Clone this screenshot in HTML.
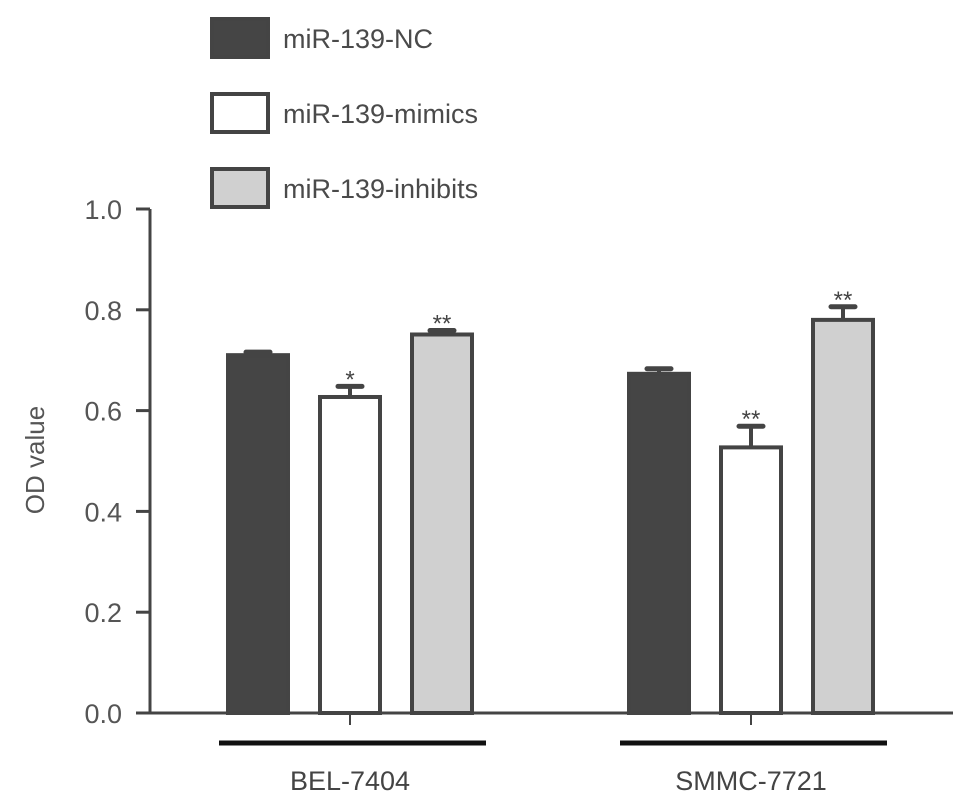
<!DOCTYPE html>
<html><head><meta charset="utf-8"><style>
body{margin:0;background:#fff}
svg{display:block;font-family:"Liberation Sans",sans-serif}
</style></head><body>
<svg id="chart" width="969" height="809" viewBox="0 0 969 809">
<g id="legend"></g>
<g id="axes"></g>
<g id="bars"></g>
</svg>
<script>
const groups = ["BEL-7404", "SMMC-7721"];
const seriesNames = ["miR-139-NC", "miR-139-mimics", "miR-139-inhibits"];
const valuesNC = [0.71, 0.673];
const valuesMimics = [0.627, 0.527];
const valuesInhibits = [0.751, 0.78];
const errNC = [0.006, 0.01];
const errMimics = [0.021, 0.042];
const errInhibits = [0.008, 0.026];
const sigMimics = ["*", "**"];
const sigInhibits = ["**", "**"];
const yTicks = [0, 0.2, 0.4, 0.6, 0.8, 1.0];

const NS = "http://www.w3.org/2000/svg";
const fills = ["#454545", "#ffffff", "#d0d0d0"];
const stroke = "#444";
function y(v){ return 713 - 504 * v; }
const groupStart = [226, 627];
const barW = 64, barStep = 92;
function x(g, s){ return groupStart[g] + s * barStep; }
function mk(parent, tag, attrs){
  const e = document.createElementNS(NS, tag);
  for (const k in attrs) e.setAttribute(k, attrs[k]);
  parent.appendChild(e);
  return e;
}
const legend = document.getElementById('legend');
const axes = document.getElementById('axes');
const bars = document.getElementById('bars');

seriesNames.forEach((n, i) => {
  const r = mk(legend, 'rect', {x: 212, y: 19 + i * 75, width: 56, height: 38, fill: fills[i], stroke: stroke, 'stroke-width': 4});
  
  
  const t = mk(legend, 'text', {x: 283, y: 48 + i * 75, 'font-size': 27, fill: '#4a4a4a'});
  t.textContent = n;
  
  
});

const ya = mk(axes, 'line', {x1: 150, y1: y(1.0), x2: 150, y2: y(0) + 1, stroke: stroke, 'stroke-width': 3});


yTicks.forEach(v => {
  const tk = mk(axes, 'line', {x1: 136, y1: y(v), x2: 150, y2: y(v), stroke: stroke, 'stroke-width': 3});
  
  
  const t = mk(axes, 'text', {x: 122, y: y(v) + 10, 'font-size': 27, 'text-anchor': 'end', fill: '#555'});
  t.textContent = v.toFixed(1);
  
  
});
const yt = mk(axes, 'text', {x: 0, y: 0, 'font-size': 26, 'text-anchor': 'middle', fill: '#555', transform: 'translate(44,460) rotate(-90)'});
yt.textContent = 'OD value';


const xa = mk(axes, 'line', {x1: 136, y1: y(0), x2: 953, y2: y(0), stroke: stroke, 'stroke-width': 3});



groups.forEach((g, gi) => {
  const cx = x(gi, 1) + barW / 2;
  const tk = mk(axes, 'line', {x1: cx, y1: y(0), x2: cx, y2: y(0) + 12, stroke: stroke, 'stroke-width': 2});
  
  
  const gl = mk(axes, 'line', {x1: x(gi, 0) - 7, y1: 743, x2: x(gi, 2) + barW + 12, y2: 743, stroke: '#111', 'stroke-width': 5});
  
  
  const t = mk(axes, 'text', {x: cx, y: 790, 'font-size': 27, 'text-anchor': 'middle', fill: '#444'});
  t.textContent = g;
  
  
});

const vals = [valuesNC, valuesMimics, valuesInhibits];
const errs = [errNC, errMimics, errInhibits];
const sigs = [null, sigMimics, sigInhibits];
groups.forEach((g, gi) => {
  vals.forEach((arr, si) => {
    const v = arr[gi], e = errs[si][gi];
    const bx = x(gi, si), cx = bx + barW / 2;
    const eb = mk(bars, 'line', {x1: cx, y1: y(v), x2: cx, y2: y(v + e), stroke: stroke, 'stroke-width': 4});
    
    
    const cap = mk(bars, 'line', {x1: cx - 12, y1: y(v + e), x2: cx + 12, y2: y(v + e), stroke: stroke, 'stroke-width': 5, 'stroke-linecap': 'round'});
    
    
    const r = mk(bars, 'rect', {x: bx + 2, y: y(v), width: barW - 4, height: y(0) - y(v), fill: fills[si], stroke: stroke, 'stroke-width': 4});
    
    
    if (sigs[si]) {
      const t = mk(bars, 'text', {x: cx, y: y(v + e) + 1, 'font-size': 24, 'text-anchor': 'middle', fill: '#444'});
      t.textContent = sigs[si][gi];
      
      
    }
  });
});
</script>
</body></html>
